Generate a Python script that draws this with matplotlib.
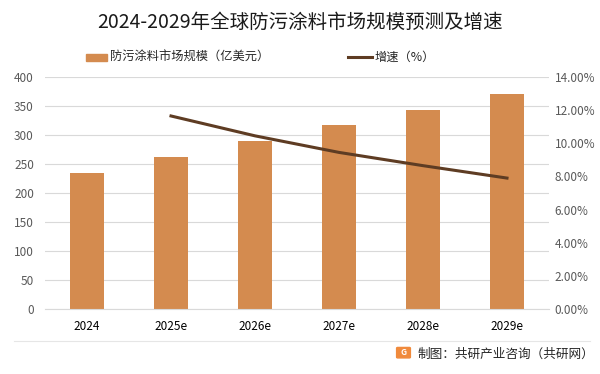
import matplotlib.pyplot as plt
from matplotlib.patches import FancyBboxPatch
from matplotlib.lines import Line2D
from matplotlib.ticker import FuncFormatter

plt.rcParams['font.family'] = ['Noto Sans CJK SC', 'DejaVu Sans']

years = ['2024', '2025e', '2026e', '2027e', '2028e', '2029e']
market = [234.5, 262, 290, 317, 343, 371]
growth_years = ['2025e', '2026e', '2027e', '2028e', '2029e']
growth = [11.65, 10.45, 9.45, 8.65, 7.9]

bar_color = '#D48B4F'
line_color = '#5E3C23'

fig = plt.figure(figsize=(6, 3.74), dpi=100)
ax = fig.add_axes([0.075, 0.174, 0.84, 0.62])
x = range(len(years))
ax.bar(x, market, width=0.4, color=bar_color, zorder=2)
ax.set_xlim(-0.5, len(years) - 0.5)
ax.set_ylim(0, 400)
ax.set_yticks(range(0, 401, 50))
ax.set_xticks(list(x))
ax.set_xticklabels(years)
ax.grid(axis='y', color='#D9D9D9', linewidth=0.8, zorder=0)
for s in ['top', 'right', 'left']:
    ax.spines[s].set_visible(False)
ax.spines['bottom'].set_color('#D9D9D9')
ax.tick_params(axis='y', length=0, labelsize=8.5, labelcolor='#595959', pad=8)
ax.tick_params(axis='x', length=0, labelsize=8.5, labelcolor='#000000', pad=8)

ax2 = ax.twinx()
gx = [years.index(g) for g in growth_years]
ax2.plot(gx, growth, color=line_color, linewidth=2.2, zorder=3)
ax2.set_ylim(0, 14)
ax2.set_yticks(range(0, 15, 2))
ax2.yaxis.set_major_formatter(FuncFormatter(lambda v, p: f'{v:.2f}%'))
for s in ax2.spines.values():
    s.set_visible(False)
ax2.tick_params(axis='y', length=0, labelsize=8.5, labelcolor='#595959', pad=4)

fig.text(0.5, 0.94, '2024-2029年全球防污涂料市场规模预测及增速', ha='center', va='center',
         fontsize=14, color='#1a1a1a')

# legend
fig.patches.append(plt.Rectangle((0.143, 0.838), 0.036, 0.018, transform=fig.transFigure,
                                 color=bar_color))
fig.text(0.183, 0.847, '防污涂料市场规模（亿美元）', ha='left', va='center', fontsize=8.8, color='#262626')
fig.lines.append(Line2D([0.58, 0.62], [0.847, 0.847], transform=fig.transFigure,
                        color=line_color, linewidth=2.2))
fig.text(0.624, 0.847, '增速（%）', ha='left', va='center', fontsize=8.8, color='#262626')

# footer
fig.lines.append(Line2D([0.023, 0.983], [0.088, 0.088], transform=fig.transFigure,
                        color='#E6E6E6', linewidth=0.8))
fig.patches.append(FancyBboxPatch((0.663, 0.045), 0.019, 0.024, transform=fig.transFigure,
                                  boxstyle='round,pad=0.002', color='#F08A3C'))
fig.text(0.6725, 0.057, 'G', ha='center', va='center', fontsize=6, color='white', fontweight='bold')
fig.text(0.695, 0.054, '制图：共研产业咨询（共研网）', ha='left', va='center', fontsize=9.1, color='#262626')

fig.savefig('out.png', dpi=100)
